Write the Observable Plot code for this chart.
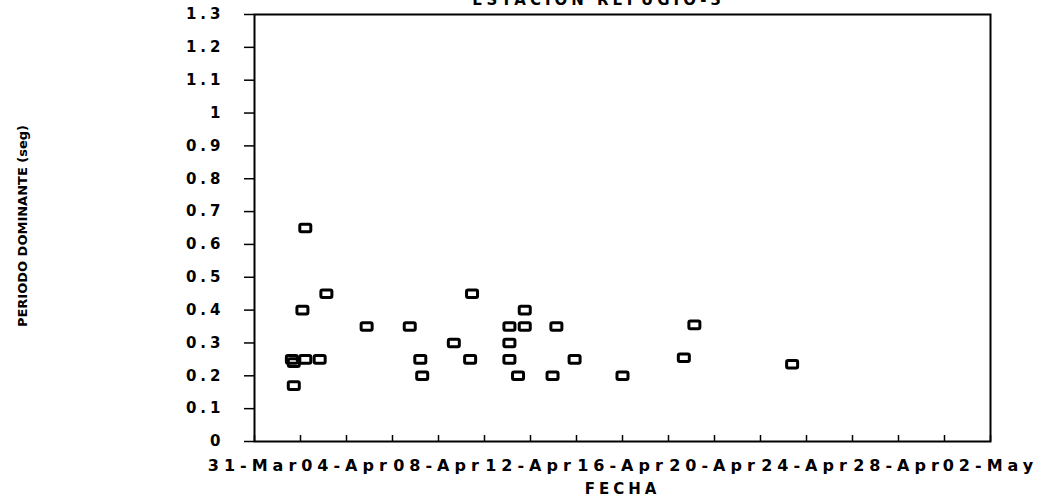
<!DOCTYPE html>
<html><head><meta charset="utf-8">
<script src="https://cdn.jsdelivr.net/npm/d3@7"></script>
<script src="https://cdn.jsdelivr.net/npm/@observablehq/plot@0.6"></script>
<style>
body{margin:0;background:#fff;}
#chart svg text{font-family:"DejaVu Sans",sans-serif;font-weight:bold;}
</style>
</head><body><div id="chart"></div>
<script>
const title = "ESTACION REFUGIO-3";
const xTitle = "FECHA";
const yTitle = "PERIODO DOMINANTE (seg)";

const dates = [
  "1990-04-01T15:00","1990-04-01T17:00","1990-04-01T17:00","1990-04-02T02:00",
  "1990-04-02T05:00","1990-04-02T05:00","1990-04-02T20:00","1990-04-03T03:00",
  "1990-04-04T21:00","1990-04-06T18:00","1990-04-07T05:00","1990-04-07T07:00",
  "1990-04-08T16:00","1990-04-09T09:00","1990-04-09T11:00","1990-04-11T02:00",
  "1990-04-11T02:00","1990-04-11T02:00","1990-04-11T11:00","1990-04-11T18:00",
  "1990-04-11T18:00","1990-04-12T23:00","1990-04-13T03:00","1990-04-13T22:00",
  "1990-04-16T00:00","1990-04-18T16:00","1990-04-19T03:00","1990-04-23T09:00"
];
const periods = [
  0.25, 0.24, 0.17, 0.40,
  0.65, 0.25, 0.25, 0.45,
  0.35, 0.35, 0.25, 0.20,
  0.30, 0.25, 0.45, 0.35,
  0.30, 0.25, 0.20, 0.40,
  0.35, 0.20, 0.35, 0.25,
  0.20, 0.255, 0.355, 0.235
];

const yTicks = [0,0.1,0.2,0.3,0.4,0.5,0.6,0.7,0.8,0.9,1,1.1,1.2,1.3];
const xTickDates = ["1990-03-31","1990-04-02","1990-04-04","1990-04-06","1990-04-08","1990-04-10",
  "1990-04-12","1990-04-14","1990-04-16","1990-04-18","1990-04-20","1990-04-22","1990-04-24",
  "1990-04-26","1990-04-28","1990-04-30","1990-05-02"];
const xLabelDates = ["1990-03-31","1990-04-04","1990-04-08","1990-04-12","1990-04-16",
  "1990-04-20","1990-04-24","1990-04-28","1990-05-02"];

const toDate = s => new Date(s.length > 10 ? s + ":00Z" : s + "T00:00:00Z");
const data = dates.map((d, i) => ({date: toDate(d), period: periods[i]}));
const fmt = d3.utcFormat("%d-%b");

const boxSymbol = {
  draw(ctx) {
    const w = 5.5, h = 3.8, r = 1.5;
    ctx.moveTo(-w + r, -h);
    ctx.lineTo(w - r, -h);
    ctx.quadraticCurveTo(w, -h, w, -h + r);
    ctx.lineTo(w, h - r);
    ctx.quadraticCurveTo(w, h, w - r, h);
    ctx.lineTo(-w + r, h);
    ctx.quadraticCurveTo(-w, h, -w, h - r);
    ctx.lineTo(-w, -h + r);
    ctx.quadraticCurveTo(-w, -h, -w + r, -h);
    ctx.closePath();
  }
};

const plot = Plot.plot({
  width: 1041,
  height: 500,
  marginLeft: 254,
  marginRight: 51,
  marginTop: 14,
  marginBottom: 59,
  style: {background: "#fff", color: "#000", fontSize: "15px"},
  x: {type: "utc", domain: [toDate("1990-03-31"), toDate("1990-05-02")]},
  y: {domain: [0, 1.3]},
  marks: [
    Plot.frame({stroke: "#000", strokeWidth: 2}),
    Plot.axisY(yTicks, {tickSize: 10, tickPadding: 20, strokeWidth: 1.5,
      tickFormat: d => d3.format("~g")(+d.toFixed(1)), label: null}),
    Plot.axisX(xTickDates.map(toDate), {tickSize: -6, tickFormat: () => "", strokeWidth: 1.5, label: null}),
    Plot.axisX(xLabelDates.map(toDate), {tickSize: 0, tickPadding: 18, tickFormat: fmt, fontSize: 16, label: null}),
    Plot.dot(data, {x: "date", y: "period", symbol: boxSymbol, stroke: "#000", strokeWidth: 3, fill: "none"}),
    Plot.text([title], {frameAnchor: "top", lineAnchor: "bottom", dy: -10, dx: -24}),
    Plot.text([xTitle], {frameAnchor: "bottom", dy: 52, dx: 0}),
    Plot.text([yTitle], {frameAnchor: "left", textAnchor: "middle", dx: -232, dy: -2, rotate: -90, fontSize: 13})
  ]
});
document.getElementById("chart").appendChild(plot);
const texts = d3.select(plot).selectAll("text");
texts.style("letter-spacing", "4px");
texts.filter(function() { return /^\d\d-[A-Z][a-z]{2}$/.test(this.textContent); })
  .style("letter-spacing", "5px");
texts.filter(function() { return this.textContent === yTitle; })
  .style("letter-spacing", "0px");
</script>
</body></html>
